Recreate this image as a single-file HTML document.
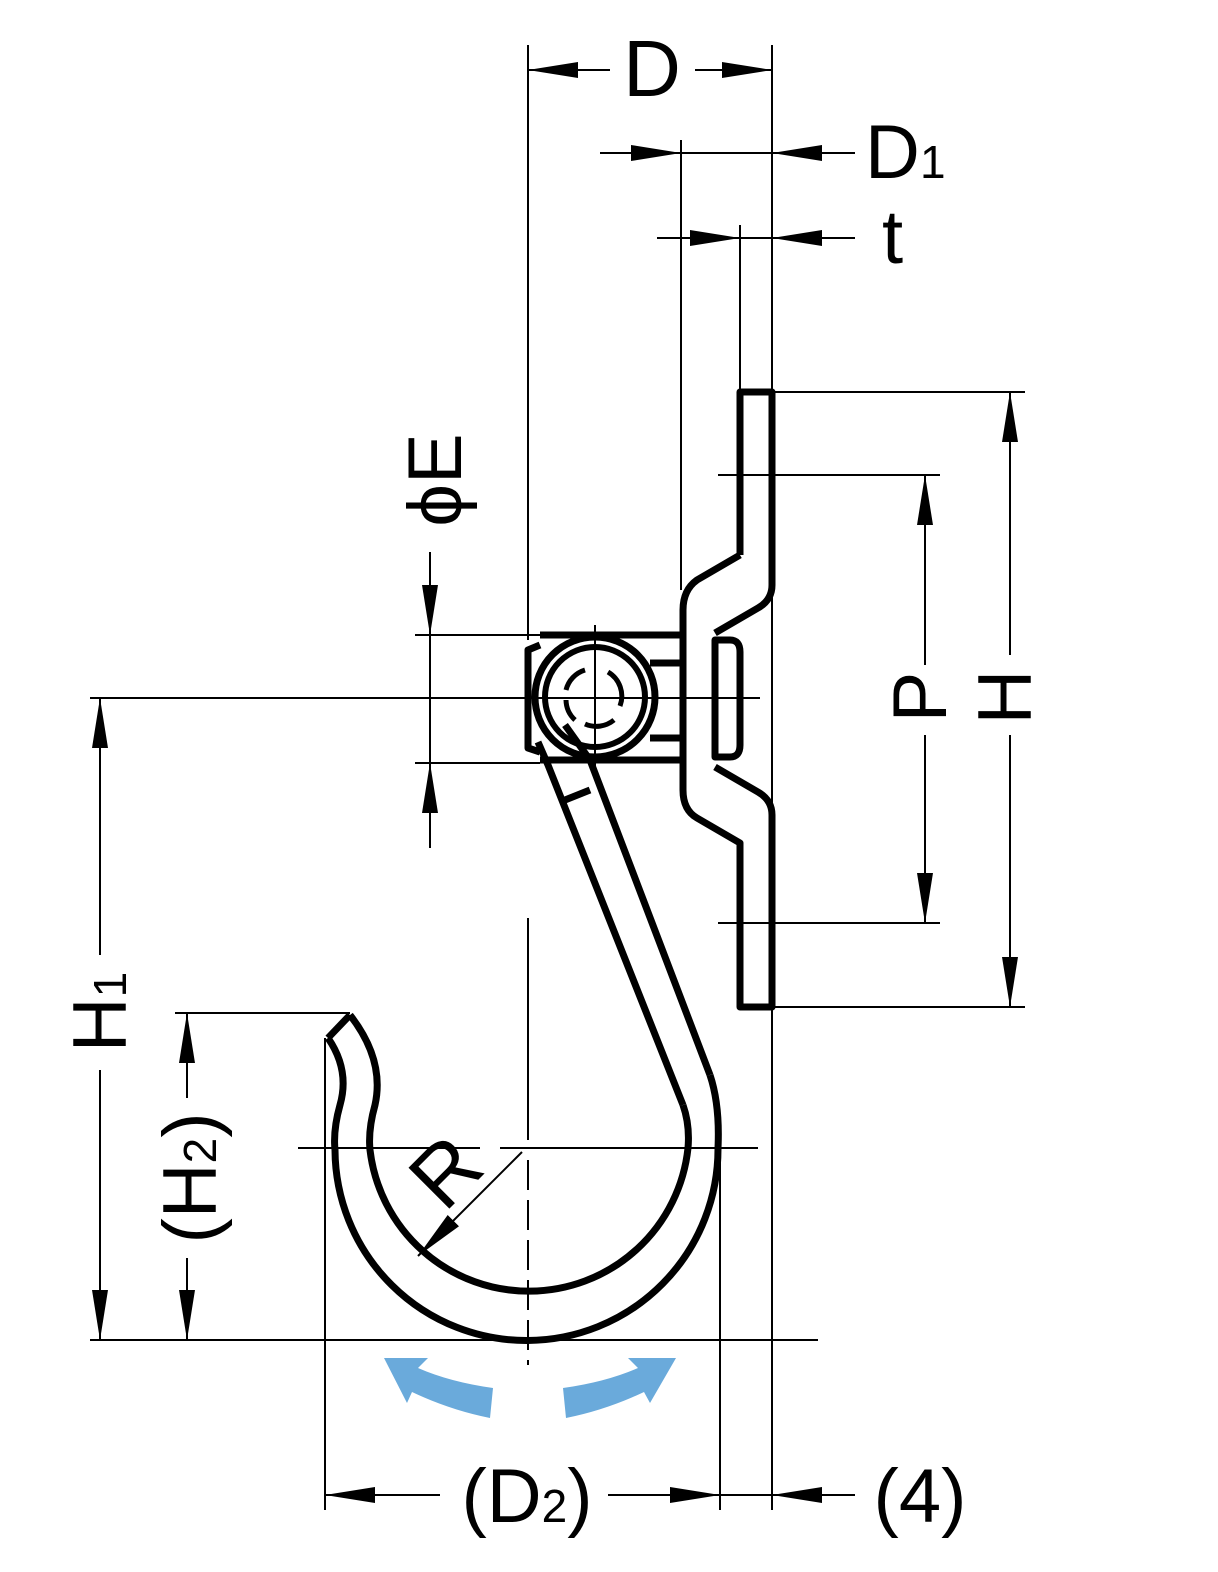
<!DOCTYPE html>
<html><head><meta charset="utf-8"><style>
html,body{margin:0;padding:0;background:#fff;}
svg{display:block;}
text{font-family:"Liberation Sans",Arial,sans-serif;fill:#000;}
</style></head><body>
<svg width="1218" height="1572" viewBox="0 0 1218 1572" xmlns="http://www.w3.org/2000/svg">
<defs>
<marker id="a" viewBox="0 0 50 16" refX="50" refY="8" markerWidth="50" markerHeight="16" markerUnits="userSpaceOnUse" orient="auto"><path d="M0,0 L50,8 L0,16 Z" fill="#000"/></marker>
</defs>
<g stroke="#000" stroke-width="2" fill="none">
<line x1="528" y1="45" x2="528" y2="640"/>
<line x1="772" y1="45" x2="772" y2="1510"/>
<line x1="681" y1="140" x2="681" y2="590"/>
<line x1="740" y1="225" x2="740" y2="392"/>
<line x1="772" y1="392" x2="1025" y2="392"/>
<line x1="718" y1="475" x2="940" y2="475"/>
<line x1="718" y1="923" x2="940" y2="923"/>
<line x1="772" y1="1007" x2="1025" y2="1007"/>
<line x1="90" y1="698" x2="760" y2="698"/>
<line x1="90" y1="1340" x2="818" y2="1340"/>
<line x1="175" y1="1013" x2="350" y2="1013"/>
<line x1="415" y1="635" x2="540" y2="635"/>
<line x1="415" y1="763" x2="540" y2="763"/>
<line x1="325" y1="1038" x2="325" y2="1510"/>
<line x1="720" y1="1140" x2="720" y2="1510"/>
<line x1="298" y1="1148" x2="480" y2="1148"/>
<line x1="500" y1="1148" x2="758" y2="1148"/>
<line x1="528" y1="918" x2="528" y2="1140"/>
<line x1="528" y1="1160" x2="528" y2="1365" stroke-dasharray="30,10"/>
<line x1="595" y1="625" x2="595" y2="775"/>
<line x1="610" y1="70" x2="528" y2="70" marker-end="url(#a)"/>
<line x1="695" y1="70" x2="772" y2="70" marker-end="url(#a)"/>
<line x1="600" y1="153" x2="681" y2="153" marker-end="url(#a)"/>
<line x1="855" y1="153" x2="772" y2="153" marker-end="url(#a)"/>
<line x1="681" y1="153" x2="772" y2="153"/>
<line x1="657" y1="238" x2="740" y2="238" marker-end="url(#a)"/>
<line x1="855" y1="238" x2="772" y2="238" marker-end="url(#a)"/>
<line x1="740" y1="238" x2="772" y2="238"/>
<line x1="1010" y1="655" x2="1010" y2="392" marker-end="url(#a)"/>
<line x1="1010" y1="735" x2="1010" y2="1007" marker-end="url(#a)"/>
<line x1="925" y1="665" x2="925" y2="475" marker-end="url(#a)"/>
<line x1="925" y1="735" x2="925" y2="923" marker-end="url(#a)"/>
<line x1="100" y1="955" x2="100" y2="698" marker-end="url(#a)"/>
<line x1="100" y1="1070" x2="100" y2="1340" marker-end="url(#a)"/>
<line x1="187" y1="1098" x2="187" y2="1013" marker-end="url(#a)"/>
<line x1="187" y1="1258" x2="187" y2="1340" marker-end="url(#a)"/>
<line x1="430" y1="552" x2="430" y2="635" marker-end="url(#a)"/>
<line x1="430" y1="848" x2="430" y2="763" marker-end="url(#a)"/>
<line x1="430" y1="635" x2="430" y2="763"/>
<line x1="440" y1="1495" x2="325" y2="1495" marker-end="url(#a)"/>
<line x1="608" y1="1495" x2="720" y2="1495" marker-end="url(#a)"/>
<line x1="855" y1="1495" x2="772" y2="1495" marker-end="url(#a)"/>
<line x1="720" y1="1495" x2="772" y2="1495"/>
<line x1="522" y1="1152" x2="418" y2="1256" marker-end="url(#a)"/>
</g>
<g stroke="#000" stroke-width="7" fill="none" stroke-linejoin="round">
<path d="M740,555 L740,392 L772,392 L772,585 Q772,600 758,608 L715,633"/>
<path d="M740,555 L697,580 Q683,590 683,610 L683,790 Q683,810 697,818 L740,843 L740,1007 L772,1007 L772,815 Q772,800 758,792 L715,767"/>
<path d="M715,640 L730,640 Q740,640 740,652 L740,745 Q740,757 730,757 L715,757 Z"/>
<path d="M540,635 L683,635 M540,760 L683,760 M650,663 L683,663 M650,738 L683,738"/>
<path d="M540,645 L528,650 L528,748 L540,752"/>
<circle cx="595" cy="697" r="60"/>
<circle cx="595" cy="697" r="50" stroke-width="6"/>
<g stroke-width="5">
<path d="M566,690 A28,28 0 0 1 585,670"/>
<path d="M608,672 A28,28 0 0 1 620,706"/>
<path d="M614,720 A28,28 0 0 1 585,724"/>
<path d="M566,700 A28,28 0 0 0 575,720"/>
</g>
<path d="M538,742 L548,765 L683,1105"/>
<path d="M565,725 L590,760 L710,1075"/>
<line x1="565" y1="800" x2="590" y2="790"/>
<path d="M683,1105 Q690,1125 688,1148 A160,160 0 0 1 370,1150 Q368,1130 375,1105 Q385,1060 350,1015"/>
<path d="M710,1075 Q720,1105 718,1148 A190,190 0 0 1 335,1150 Q333,1130 340,1105 Q350,1070 328,1038"/>
<line x1="328" y1="1038" x2="350" y2="1015"/>
</g>
<g fill="#6aaadb">
<path d="M493,1388 Q450,1382 418,1368 L428,1358 L384,1358 L407,1403 L412,1392 Q450,1410 490,1418 Z"/>
<path d="M563,1388 Q606,1382 638,1368 L628,1358 L676,1358 L650,1403 L644,1392 Q606,1410 566,1418 Z"/>
</g>
<text x="652" y="96" font-size="80" text-anchor="middle">D</text>
<text x="865" y="178" font-size="76">D</text><text x="920" y="178" font-size="46">1</text>
<text x="882" y="263" font-size="76">t</text>
<text transform="translate(466,1192) rotate(-45)" font-size="84" text-anchor="middle">R</text>
<text x="527" y="1522" font-size="76" text-anchor="middle">(D<tspan font-size="46">2</tspan>)</text>
<text x="920" y="1522" font-size="76" text-anchor="middle">(4)</text>
<text transform="translate(946,697) rotate(-90)" font-size="76" text-anchor="middle">P</text>
<text transform="translate(1031,697) rotate(-90)" font-size="76" text-anchor="middle">H</text>
<text transform="translate(126,1012) rotate(-90)" font-size="76" text-anchor="middle">H<tspan font-size="46">1</tspan></text>
<text transform="translate(216,1178) rotate(-90)" font-size="76" text-anchor="middle">(H<tspan font-size="46">2</tspan>)</text>
<text transform="translate(461,480) rotate(-90)" font-size="76" text-anchor="middle">ϕE</text>
</svg>
</body></html>
